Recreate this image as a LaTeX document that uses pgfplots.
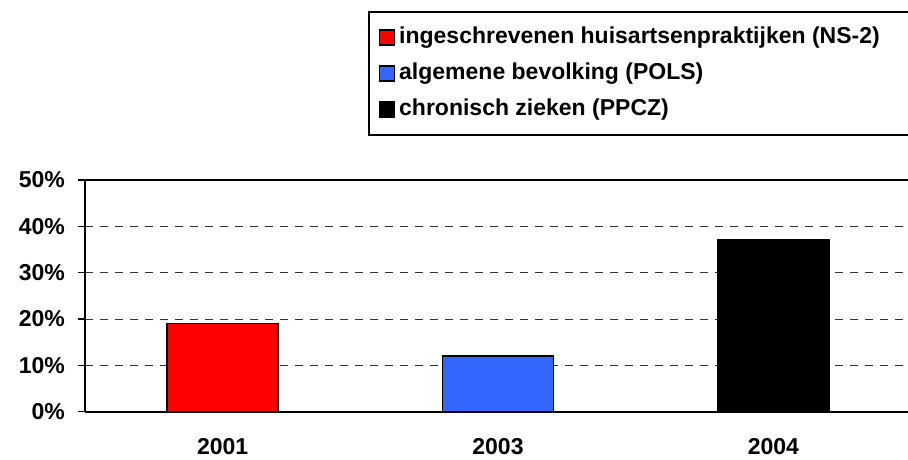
\documentclass[border=0pt]{standalone}
\usepackage{pgfplots}
\pgfplotsset{compat=1.18}
\usepackage{fontspec}
\setmainfont{Liberation Sans}
\definecolor{barred}{RGB}{255,0,0}
\definecolor{barblue}{RGB}{51,102,255}
\newcommand\f{\fontsize{23}{27}\selectfont\bfseries}
\begin{document}
\begin{tikzpicture}
\path[use as bounding box] (0,0) rectangle (908pt,459pt);
\begin{axis}[
  at={(85pt,47.3pt)}, anchor=south west,
  scale only axis, width=826pt, height=231.7pt,
  xmin=-0.5, xmax=2.5, ymin=0, ymax=50,
  axis line style={line width=2.2pt},
  separate axis lines,
  x axis line style={-},
  y axis line style={-},
  ybar, bar width=111pt, bar shift=0pt,
  xtick={0,1,2}, xticklabels={2001,2003,2004},
  major x tick style={draw=none},
  extra x ticks={-0.5,0.5,1.5,2.5}, extra x tick labels={},
  extra x tick style={major tick length=7pt, tick style={line width=1.5pt, draw=black}},
  ytick={0,10,20,30,40,50},
  yticklabel={\pgfmathprintnumber{\tick}\%},
  /pgf/number format/assume math mode=true,
  tick align=outside, major tick length=7pt,
  tick style={line width=1.5pt, black},
  ytick pos=left, xtick pos=bottom,
  ticklabel style={font=\f},
  yticklabel style={inner sep=0pt, xshift=-13pt},
  xticklabel style={inner sep=0pt, yshift=-20pt},
  ymajorgrids, grid style={dash pattern=on 8pt off 7pt, line width=1pt, black!80},
  legend style={at={(axis description cs:0.3426,1.7294)}, anchor=north west,
    draw=black, line width=2pt, font=\f, inner xsep=10pt, inner ysep=15pt,
    row sep=15pt, cells={anchor=west},
    nodes={text height=16pt, text depth=5pt, inner sep=0pt}},
  legend cell align=left,
  legend image code/.code={\draw[#1, draw=black, line width=1.2pt] (0pt,-7.5pt) rectangle (15pt,7.5pt);},
  every axis plot/.append style={draw=black, line width=1.5pt},
]
\addplot[fill=barred] coordinates {(0,19)};
\addlegendentry{\hspace{4pt}ingeschrevenen huisartsenpraktijken (NS-2)\hspace*{60pt}\mbox{}}
\addplot[fill=barblue] coordinates {(1,12)};
\addlegendentry{\hspace{4pt}algemene bevolking (POLS)}
\addplot[fill=black] coordinates {(2,37)};
\addlegendentry{\hspace{4pt}chronisch zieken (PPCZ)}
\end{axis}
\end{tikzpicture}
\end{document}
